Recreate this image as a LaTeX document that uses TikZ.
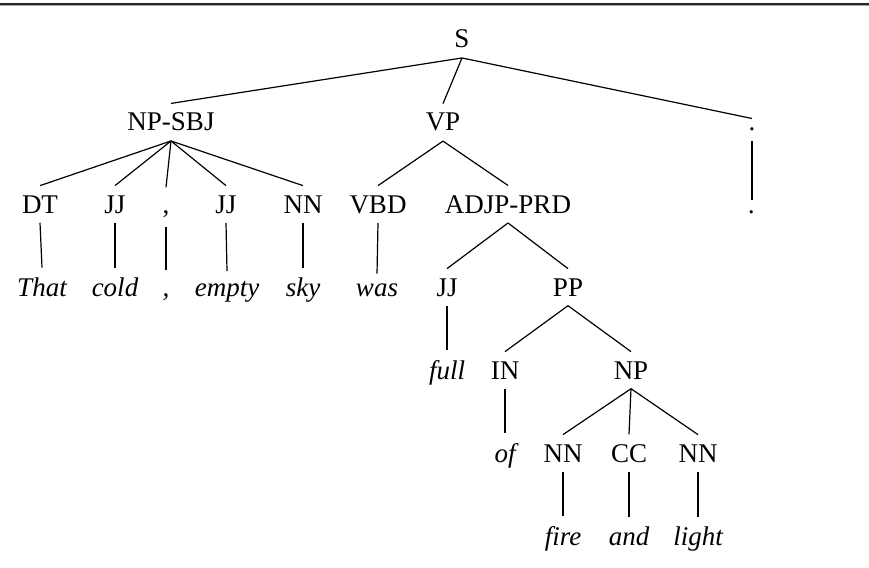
\documentclass[tikz,border=0pt]{standalone}
\usepackage{fontspec}
\setmainfont{Liberation Serif}
\begin{document}
\begin{tikzpicture}[x=1pt,y=-1pt,
  every node/.style={font=\fontsize{27}{32}\selectfont, inner xsep=0pt, inner ysep=9.5pt, anchor=base},
  wd/.style={font=\fontsize{27}{32}\selectfont\itshape},
  tallcomma/.style={text height=16pt},
  edge/.style={line width=1.2pt}]
\useasboundingbox (0,0) rectangle (869,567);
\fill[black!85] (0,3.2) rectangle (869,4.9);
\fill[black!35] (0,4.9) rectangle (869,6);
% level 0
\node (S) at (462,48) {S};
% level 1
\node (npsbj) at (171,131) {NP-SBJ};
\node (vp) at (443,131) {VP};
\node (dot) at (752,131) {.};
% level 2
\node (dt) at (40,213) {DT};
\node (jj1) at (115,213) {JJ};
\node[tallcomma] (cm) at (166,213) {,};
\node (jj2) at (226,213) {JJ};
\node (nn1) at (303,213) {NN};
\node (vbd) at (378,213) {VBD};
\node (adjp) at (508,213) {ADJP-PRD};
\node[wd] (wdot) at (752,213) {.};
% level 3
\node[wd] (wthat) at (42,296) {That};
\node[wd] (wcold) at (115,296) {cold};
\node[wd,tallcomma] (wcm) at (166,296) {,};
\node[wd] (wempty) at (227,296) {empty};
\node[wd] (wsky) at (303,296) {sky};
\node[wd] (wwas) at (377,296) {was};
\node (jj3) at (447,296) {JJ};
\node (pp) at (568,296) {PP};
% level 4
\node[wd] (wfull) at (447,379) {full};
\node (in) at (505,379) {IN};
\node (np) at (631,379) {NP};
% level 5
\node[wd] (wof) at (505,462) {of};
\node (nn2) at (563,462) {NN};
\node (cc) at (629,462) {CC};
\node (nn3) at (698,462) {NN};
% level 6
\node[wd] (wfire) at (563,545) {fire};
\node[wd] (wand) at (629,545) {and};
\node[wd] (wlight) at (698,545) {light};
% edges
\draw[edge] (S.south) -- (npsbj.north);
\draw[edge] (S.south) -- (vp.north);
\draw[edge] (S.south) -- (dot.north);
\foreach \c in {dt,jj1,cm,jj2,nn1}{\draw[edge] (npsbj.south) -- (\c.north);}
\draw[edge] (vp.south) -- (vbd.north);
\draw[edge] (vp.south) -- (adjp.north);
\draw[edge] (dot.south) -- (wdot.north);
\draw[edge] (dt.south) -- (wthat.north);
\draw[edge] (jj1.south) -- (wcold.north);
\draw[edge] (cm.south) -- (wcm.north);
\draw[edge] (jj2.south) -- (wempty.north);
\draw[edge] (nn1.south) -- (wsky.north);
\draw[edge] (vbd.south) -- (wwas.north);
\draw[edge] (adjp.south) -- (jj3.north);
\draw[edge] (adjp.south) -- (pp.north);
\draw[edge] (jj3.south) -- (wfull.north);
\draw[edge] (pp.south) -- (in.north);
\draw[edge] (pp.south) -- (np.north);
\draw[edge] (in.south) -- (wof.north);
\draw[edge] (np.south) -- (nn2.north);
\draw[edge] (np.south) -- (cc.north);
\draw[edge] (np.south) -- (nn3.north);
\draw[edge] (nn2.south) -- (wfire.north);
\draw[edge] (cc.south) -- (wand.north);
\draw[edge] (nn3.south) -- (wlight.north);
\end{tikzpicture}
\end{document}
